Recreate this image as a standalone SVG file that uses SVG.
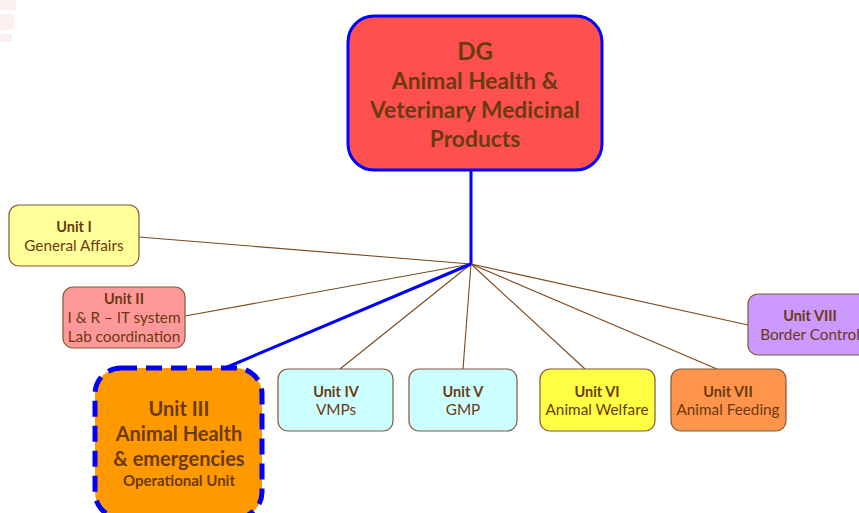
<svg xmlns="http://www.w3.org/2000/svg" width="859" height="513" viewBox="0 0 859 513">
<style>
.u{stroke:#7f5a36;stroke-width:1.2}
.t{font-family:Lato,"Open Sans","Liberation Sans",sans-serif;fill:#6b3a10;text-anchor:middle}
.b{font-weight:bold}
.s{font-size:15.3px}
.h{font-size:14.5px;font-weight:bold}
.c{stroke:#7a4a1e;stroke-width:1.1;fill:none}
.bl{stroke:#0000ff;stroke-width:3;fill:none}
</style>
<rect width="859" height="513" fill="#ffffff"/>
<g opacity="0.08"><rect x="0" y="0" width="16" height="10" fill="#d04040"/><rect x="0" y="14" width="14" height="16" fill="#d04040"/><rect x="0" y="34" width="12" height="8" fill="#d04040"/></g>
<g id="connectors">
<line class="c" x1="139" y1="237" x2="471" y2="264"/>
<line class="c" x1="185" y1="316" x2="471" y2="264"/>
<line class="c" x1="340" y1="369" x2="471" y2="264"/>
<line class="c" x1="463" y1="369" x2="471" y2="264"/>
<line class="c" x1="585" y1="369" x2="471" y2="264"/>
<line class="c" x1="717" y1="369" x2="471" y2="264"/>
<line class="c" x1="748" y1="325" x2="471" y2="264"/>
<line class="bl" x1="471" y1="169" x2="471" y2="264"/>
<line class="bl" x1="471" y1="264" x2="225" y2="368"/>
</g>
<g id="dg">
<rect x="348" y="16" width="254" height="154" rx="26" fill="#ff5050" stroke="#0000ff" stroke-width="3"/>
<text class="t b" x="475" y="60" font-size="24">DG</text>
<text class="t b" x="475" y="89" font-size="22.8">Animal Health &amp;</text>
<text class="t b" x="475" y="118" font-size="22.8">Veterinary Medicinal</text>
<text class="t b" x="475" y="147" font-size="22.8">Products</text>
</g>
<g id="unit1">
<rect class="u" x="9" y="205" width="130" height="61" rx="10" fill="#ffff99"/>
<text class="t h" x="74" y="232">Unit I</text>
<text class="t s" x="74" y="251">General Affairs</text>
</g>
<g id="unit2">
<rect class="u" x="63" y="287" width="122" height="61" rx="10" fill="#ff9999"/>
<text class="t h" x="124" y="304">Unit II</text>
<text class="t s" x="124" y="323">I &amp; R – IT system</text>
<text class="t s" x="124" y="342">Lab coordination</text>
</g>
<g id="unit3">
<rect x="95" y="368" width="167" height="150" rx="26" fill="#ff9900" stroke="#0000ff" stroke-width="5" stroke-dasharray="16 9"/>
<text class="t b" x="179" y="416" font-size="20">Unit III</text>
<text class="t b" x="179" y="441" font-size="20">Animal Health</text>
<text class="t b" x="179" y="466" font-size="20">&amp; emergencies</text>
<text class="t b" x="179" y="486" font-size="15">Operational Unit</text>
</g>
<g id="unit4">
<rect class="u" x="278" y="369" width="115" height="62" rx="10" fill="#ccffff"/>
<text class="t h" x="336" y="397">Unit IV</text>
<text class="t s" x="336" y="415">VMPs</text>
</g>
<g id="unit5">
<rect class="u" x="409" y="369" width="108" height="62" rx="10" fill="#ccffff"/>
<text class="t h" x="463" y="397">Unit V</text>
<text class="t s" x="463" y="415">GMP</text>
</g>
<g id="unit6">
<rect class="u" x="540" y="369" width="115" height="62" rx="10" fill="#ffff44"/>
<text class="t h" x="597" y="397">Unit VI</text>
<text class="t s" x="597" y="415">Animal Welfare</text>
</g>
<g id="unit7">
<rect class="u" x="671" y="369" width="115" height="62" rx="10" fill="#ff944d"/>
<text class="t h" x="728" y="397">Unit VII</text>
<text class="t s" x="728" y="415">Animal Feeding</text>
</g>
<g id="unit8">
<rect class="u" x="748" y="294" width="120" height="61" rx="10" fill="#cc99ff"/>
<text class="t h" x="810" y="321">Unit VIII</text>
<text class="t s" x="810" y="340">Border Control</text>
</g>
</svg>
